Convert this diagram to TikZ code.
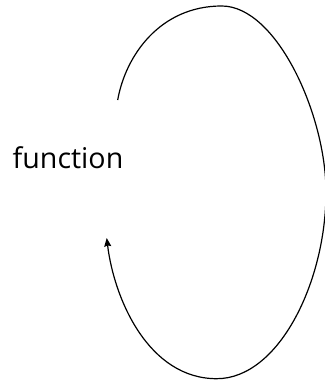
\documentclass[tikz,border=0pt]{standalone}
\usepackage{fontspec}
\setmainfont{Open Sans}
\usetikzlibrary{arrows.meta}
\begin{document}
\begin{tikzpicture}[x=1pt,y=1pt]
\useasboundingbox (0,0) rectangle (324,382);
\coordinate (S) at (117.7,282);
\coordinate (T) at (221.7,376);
\coordinate (R) at (326,190);
\coordinate (B) at (216.7,3.3);
\coordinate (E) at (106.7,144);

 \node (fn) at (68,224) {\fontsize{28.6}{34}\selectfont function};
 % loop round, ends back under the start
 \draw[-{Stealth[length=8.5pt,width=7pt,inset=1pt]}, line width=1.2pt]
  (S) .. controls (125.5,326.3) and (160,376) .. (T)
      .. controls (276.7,376) and (326,267) .. (R)
      .. controls (326,100) and (278.7,3.3) .. (B)
      .. controls (148.7,3.3) and (114.2,82.5) .. (E);

\end{tikzpicture}
\end{document}
